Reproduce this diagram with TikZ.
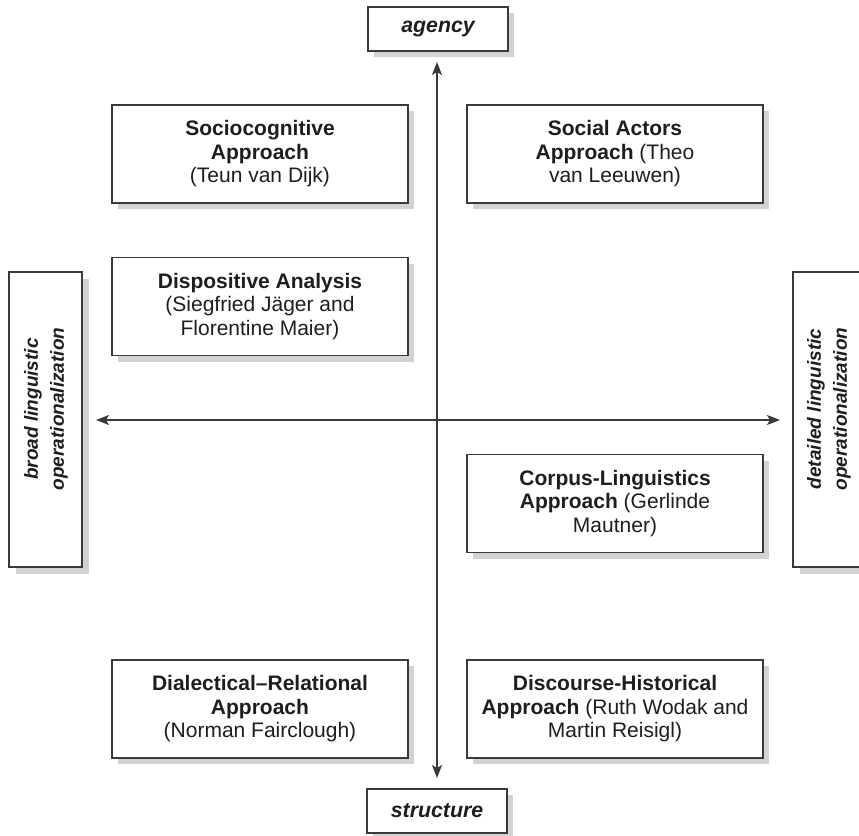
\documentclass[tikz,border=0pt]{standalone}
\usepackage{fontspec}
\setmainfont{Liberation Sans}
\usetikzlibrary{shadows,arrows.meta}
\definecolor{edge}{HTML}{3A3A3A}
\definecolor{shade}{HTML}{D2D2D4}
\definecolor{ink}{HTML}{1E1E1E}
\tikzset{
  quad/.style={draw=edge, line width=1.6pt, fill=white, rectangle, align=center,
    minimum width=296pt, minimum height=98pt, inner sep=0pt, text=ink,
    font=\fontsize{21}{23.5}\selectfont,
    general shadow={fill=shade, shadow xshift=6pt, shadow yshift=-6pt}},
  pole/.style={quad, minimum width=140pt, minimum height=44pt, font=\fontsize{21.3}{23.5}\selectfont\bfseries\itshape},
  side/.style={draw=edge, line width=1.6pt, fill=white, rectangle,
    minimum width=73pt, minimum height=295pt, inner sep=0pt,
    general shadow={fill=shade, shadow xshift=7pt, shadow yshift=-7pt}},
  sidetext/.style={align=center, rotate=90, text=ink, inner sep=0pt,
    font=\fontsize{19}{26}\selectfont\bfseries\itshape},
  axis/.style={draw=edge, line width=1.3pt, {Stealth[length=13pt,width=10pt,inset=3pt]}-{Stealth[length=13pt,width=10pt,inset=3pt]}}
}
\begin{document}
\begin{tikzpicture}[x=1pt,y=-1pt]
\useasboundingbox (0,0) rectangle (859,835);
\fill[white] (0,0) rectangle (859,835);
% axes
\coordinate (vtop) at (437,62);
\coordinate (vbot) at (437,778);
\coordinate (hleft) at (96,420);
\coordinate (hright) at (780,420);
\draw[axis] (vtop) -- (vbot);
\draw[axis] (hleft) -- (hright);
% poles
\node[pole] (agency) at (438,29) {agency};
\node[pole] (structure) at (437,811) {structure};
\node[side] (broadbox) at (45.5,419.5) {};
\node[sidetext] (broad) at (46,409) {broad linguistic\\operationalization};
\node[side] (detbox) at (829.5,419.5) {};
\node[sidetext] (det) at (829,409) {detailed linguistic\\operationalization};
% approaches
\node[quad] (socio) at (260,154) {\textbf{Sociocognitive}\\\textbf{Approach}\\(Teun van Dijk)};
\node[quad] (actors) at (615,154) {\textbf{Social Actors}\\\textbf{Approach} (Theo\\van Leeuwen)};
\node[quad] (dispo) at (260,306.5) {\textbf{Dispositive Analysis}\\(Siegfried Jäger and\\Florentine Maier)};
\node[quad] (corpus) at (615,503.5) {\textbf{Corpus-Linguistics}\\\textbf{Approach} (Gerlinde\\Mautner)};
\node[quad] (dialect) at (260,709) {\textbf{Dialectical–Relational}\\\textbf{Approach}\\(Norman Fairclough)};
\node[quad] (dha) at (615,709) {\textbf{Discourse-Historical}\\\textbf{Approach} (Ruth Wodak and\\Martin Reisigl)};
\end{tikzpicture}
\end{document}
